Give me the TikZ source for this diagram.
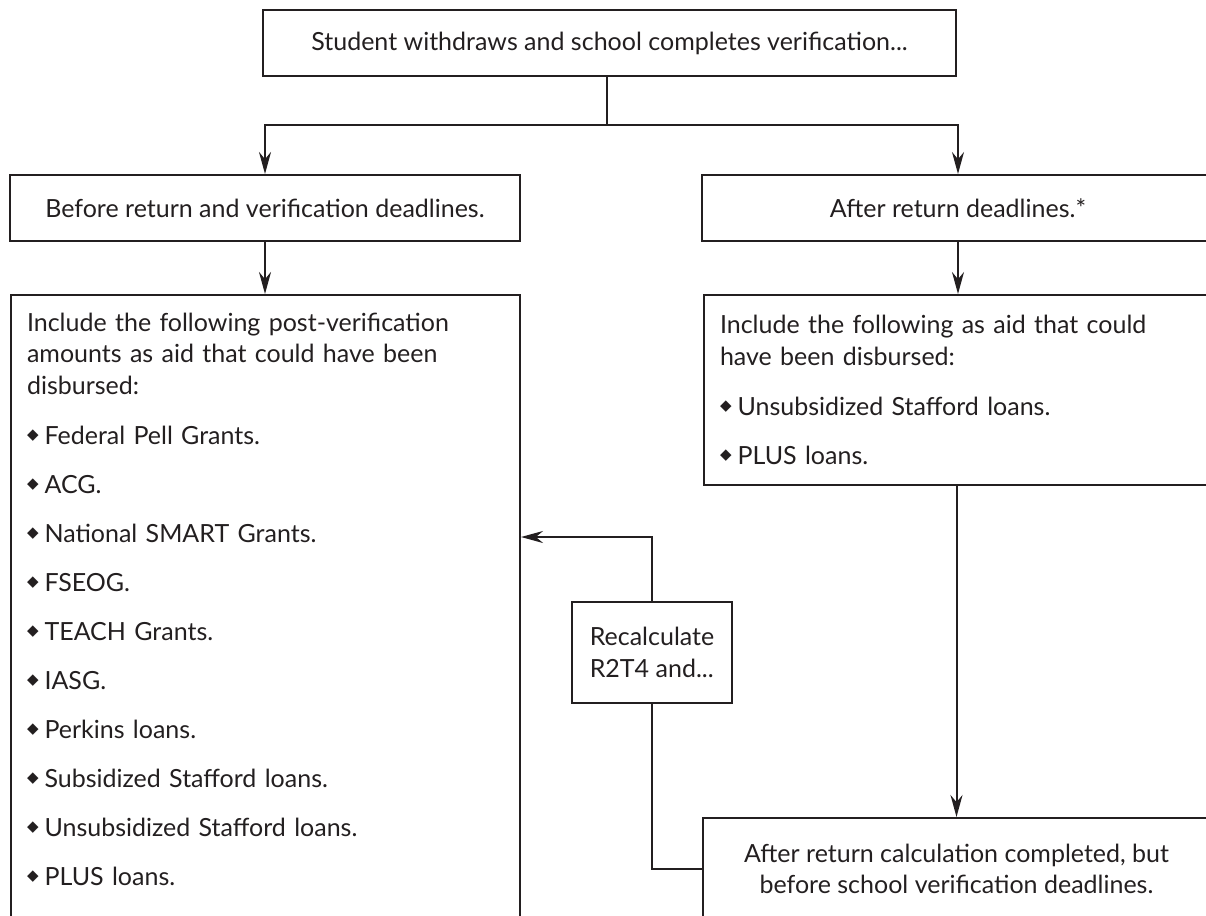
\documentclass[tikz,border=0pt]{standalone}
\usepackage{fontspec}
\setmainfont{Lato}
\newfontfamily\symfont{DejaVu Sans}
\usepackage{xcolor}
\usepackage{tikz}
\usetikzlibrary{arrows.meta, positioning}
\definecolor{ink}{HTML}{231F20}
\newcommand{\dia}{\raisebox{2.6pt}{\symfont\fontsize{7.5}{7.5}\selectfont ◆}\hspace{3pt}}
\tikzstyle{frame} = [rectangle, draw=ink, line width=1pt, text=ink, inner sep=0pt, text centered]
\tikzstyle{listbox} = [rectangle, draw=ink, line width=1pt, text=ink, anchor=north west, align=left, inner xsep=8pt, inner ysep=9pt]
\tikzstyle{arrow} = [draw=ink, line width=1pt, -{Stealth[length=11pt,width=6pt]}]
\tikzstyle{link} = [draw=ink, line width=1pt]

\begin{document}
\begin{tikzpicture}[x=0.5pt, y=-0.5pt, font=\fontsize{12.5}{15.75}\selectfont]
    \useasboundingbox (0,0) rectangle (1206,916);
    \node (start) [frame, minimum width=346.5pt, minimum height=33pt] at (609.5,43) {Student withdraws and school completes verification...};
    \node (before) [frame, minimum width=255pt, minimum height=33pt] at (265,208) {Before return and verification deadlines.};
    \node (after) [frame, minimum width=256pt, minimum height=33pt] at (958,208) {After return deadlines.*};
    \node (postver) [listbox, text width=238.5pt, text depth=300pt] at (10,294) {Include the following post-verification\\amounts as aid that could have been\\disbursed:\\[9.25pt]
        \dia Federal Pell Grants.\\[8.75pt]
        \dia ACG.\\[8.75pt]
        \dia National SMART Grants.\\[8.75pt]
        \dia FSEOG.\\[8.75pt]
        \dia TEACH Grants.\\[8.75pt]
        \dia IASG.\\[8.75pt]
        \dia Perkins loans.\\[8.75pt]
        \dia Subsidized Stafford loans.\\[8.75pt]
        \dia Unsubsidized Stafford loans.\\[8.75pt]
        \dia PLUS loans.};
    \node (extra) [listbox, text width=239.5pt, minimum height=95pt] at (703,294) {Include the following as aid that could\\have been disbursed:\\[9.25pt]
        \dia Unsubsidized Stafford loans.\\[8.75pt]
        \dia PLUS loans.};
    \node (recalc) [frame, align=left, minimum width=80pt, minimum height=50.5pt] at (652,652.5) {Recalculate\\R2T4 and...};
    \node (verif) [frame, align=center, minimum width=253.5pt, minimum height=51pt] at (956.5,869) {After return calculation completed, but\\before school verification deadlines.};
    \coordinate (fork) at (607,125);

    \draw [link] (start.south -| fork) -- (fork);
    \draw [arrow] (fork) -| (before.north);
    \draw [arrow] (fork) -| (after.north);
    \draw [arrow] (before) -- (before |- postver.north);
    \draw [arrow] (after) -- (after |- extra.north);
    \draw [arrow] (extra.south -| verif) -- (verif);
    \draw [arrow] (recalc.north) |- (postver.east |- 0,537);
    \draw [link] (recalc.south) |- (verif.west);
\end{tikzpicture}
\end{document}
